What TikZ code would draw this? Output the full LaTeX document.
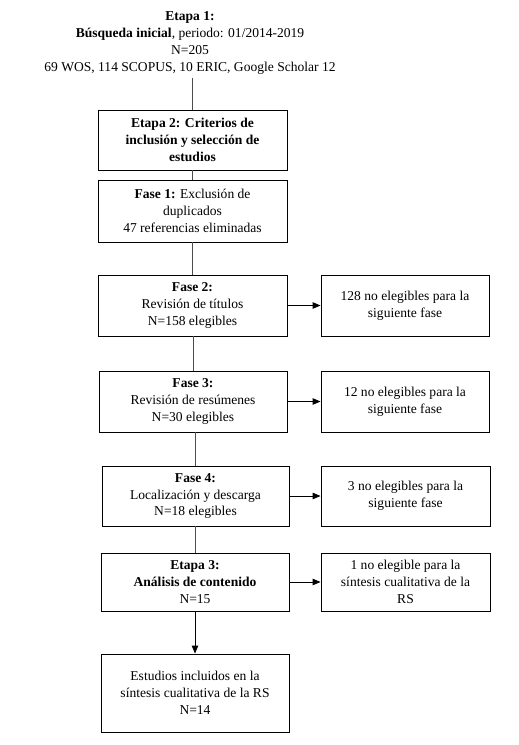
\documentclass[tikz,border=0pt]{standalone}
\usepackage{fontspec}
\setmainfont{Liberation Serif}
\usetikzlibrary{arrows.meta}

\begin{document}
\begin{tikzpicture}[x=1bp,y=-1bp,
		box/.style={draw, line width=0.9bp, align=center, inner sep=2bp,
			font=\fontsize{13.6}{17}\selectfont},
		link/.style={draw=black!70, line width=0.9bp},
		arr/.style={draw=black, line width=0.9bp, -{Triangle[length=8bp,width=6.5bp]}}]
			\useasboundingbox (0,0) rectangle (519,745);

			% top text
			\node[align=center, font=\fontsize{13.6}{17}\selectfont] (e1) at (190,43)
				{\textbf{Etapa 1:}\\ \textbf{Búsqueda inicial}, periodo: 01/2014-2019\\ N=205\\
				69 WOS, 114 SCOPUS, 10 ERIC, Google Scholar 12};

			% left column
			\node[box, minimum width=189bp, minimum height=60bp] (e2) at (192.5,140)
				{\textbf{Etapa 2: Criterios de}\\ \textbf{inclusión y selección de}\\ \textbf{estudios}};
			\node[box, minimum width=189bp, minimum height=62bp] (f1) at (192.5,211)
				{\textbf{Fase 1:} Exclusión de\\ duplicados\\ 47 referencias eliminadas};
			\node[box, minimum width=189bp, minimum height=61bp] (f2) at (192.5,305.5)
				{\textbf{Fase 2:}\\ Revisión de títulos\\ N=158 elegibles};
			\node[box, minimum width=188bp, minimum height=61bp] (f3) at (193,401.5)
				{\textbf{Fase 3:}\\ Revisión de resúmenes\\ N=30 elegibles};
			\node[box, minimum width=187bp, minimum height=60bp] (f4) at (195.5,496)
				{\textbf{Fase 4:}\\ Localización y descarga\\ N=18 elegibles};
			\node[box, minimum width=188bp, minimum height=58bp] (e3) at (195,582)
				{\textbf{Etapa 3:}\\ \textbf{Análisis de contenido}\\ N=15};
			\node[box, minimum width=188bp, minimum height=78bp] (fin) at (195,693)
				{Estudios incluidos en la\\ síntesis cualitativa de la RS\\ N=14};

			% right column
			\node[box, minimum width=168bp, minimum height=61bp] (n1) at (405,305.5)
				{128 no elegibles para la\\ siguiente fase};
			\node[box, minimum width=168bp, minimum height=61bp] (n2) at (405,401.5)
				{12 no elegibles para la\\ siguiente fase};
			\node[box, minimum width=169bp, minimum height=60bp] (n3) at (405.5,496)
				{3 no elegibles para la\\ siguiente fase};
			\node[box, minimum width=169bp, minimum height=58bp] (n4) at (405.5,582)
				{1 no elegible para la\\ síntesis cualitativa de la\\ RS};

			% vertical links
			\draw[link] (e2.north |- e1.south) -- (e2.north);
			\draw[link] (f1.north |- e2.south) -- (f1.north);
			\draw[link] (f2.north |- f1.south) -- (f2.north);
			\draw[link] (f3.north |- f2.south) -- (f3.north);
			\draw[link] (f4.north |- f3.south) -- (f4.north);
			\draw[link] (e3.north |- f4.south) -- (e3.north);
			\draw[arr] (fin.north |- e3.south) -- (fin.north);

			% arrows to the right
			\draw[arr] (f2.east) -- (n1.west);
			\draw[arr] (f3.east) -- (n2.west);
			\draw[arr] (f4.east) -- (n3.west);
			\draw[arr] (e3.east) -- (n4.west);

		\end{tikzpicture}
\end{document}
